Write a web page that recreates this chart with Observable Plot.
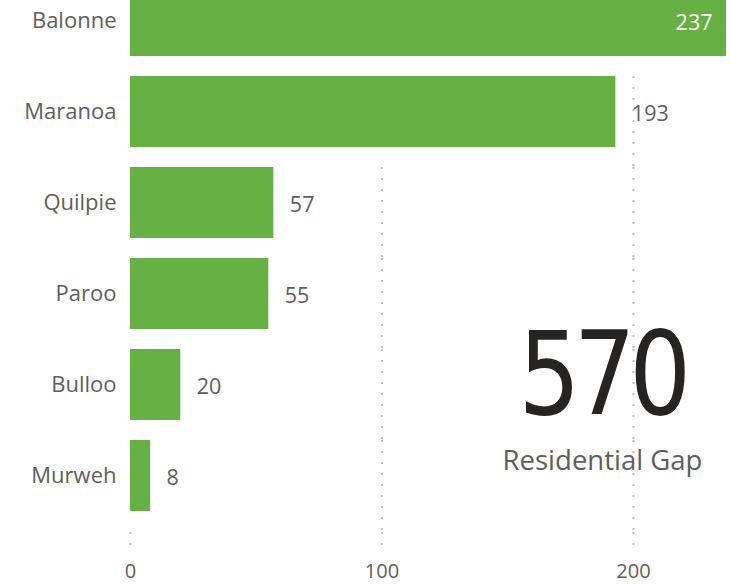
<!DOCTYPE html>
<html>
<head>
<meta charset="utf-8">
<script src="https://cdn.jsdelivr.net/npm/d3@7"></script>
<script src="https://cdn.jsdelivr.net/npm/@observablehq/plot@0.6"></script>
<style>
  html, body { margin: 0; padding: 0; background: white; }
  #chart svg { display: block; }
</style>
</head>
<body>
<div id="chart"></div>
<script>
const categories = ["Balonne", "Maranoa", "Quilpie", "Paroo", "Bulloo", "Murweh"];
const values = [237, 193, 57, 55, 20, 8];
const xTicks = [0, 100, 200];
const kpiLabel = "Residential Gap";

const data = categories.map((c, i) => ({category: c, value: values[i]}));
const total = d3.sum(values);
const maxV = d3.max(values);

const W = 730, H = 585;
const pad = 0.22;
const barColor = "#67b043";
const textColor = "#605e5c";
const font = "'Segoe UI', 'Open Sans', sans-serif";
const kpiFont = "'DIN', 'Liberation Sans Narrow', 'DejaVu Sans Condensed', 'Open Sans', sans-serif";

// grid segments: for each tick, the bands whose bar is shorter than the tick
const gridSegs = [];
for (const t of xTicks) for (const d of data) if (d.value < t) gridSegs.push({tick: t, category: d.category});
const last = categories[categories.length - 1];
const gridStyle = {stroke: "#b3b0ad", strokeWidth: 2, strokeDasharray: "2,9", strokeOpacity: 0.85};

const chart = Plot.plot({
  width: W,
  height: H,
  marginTop: -38,
  marginBottom: 52,
  marginLeft: 130,
  marginRight: 4,
  style: {fontFamily: font, background: "white"},
  x: {domain: [0, maxV], axis: null},
  y: {domain: categories, padding: pad, axis: null},
  marks: [
    Plot.tickX(gridSegs, {x: "tick", y: "category", insetBottom: -20, ...gridStyle}),
    Plot.tickX(xTicks, {x: d => d, y: () => last, insetTop: 92, insetBottom: -42, ...gridStyle}),
    Plot.barX(data, {x: "value", y: "category", fill: barColor}),
    Plot.axisY({tickSize: 0, tickPadding: 14, fontSize: 22, fill: textColor, label: null}),
    Plot.axisX(xTicks, {tickSize: 0, tickPadding: 30, fontSize: 20, fill: textColor, anchor: "bottom", label: null}),
    Plot.text(data.filter(d => d.value === maxV), {x: "value", y: "category", text: d => String(d.value), textAnchor: "end", dx: -14, dy: 2, fill: "white", fontSize: 21.5}),
    Plot.text(data.filter(d => d.value !== maxV), {x: "value", y: "category", text: d => String(d.value), textAnchor: "start", dx: 16, dy: 2, fill: textColor, fontSize: 21.5}),
    Plot.text([total], {frameAnchor: "bottom-right", text: d => String(d), dx: -125, dy: -156, lineAnchor: "middle", textAnchor: "middle", fontSize: 115, fill: "#252423", fontFamily: kpiFont, className: "kpi-value"}),
    Plot.text([kpiLabel], {frameAnchor: "bottom-right", text: d => d, dx: -124, dy: -72, lineAnchor: "middle", textAnchor: "middle", fontSize: 27.5, fill: textColor})
  ]
});
// narrow the callout number to match the condensed card font
d3.select(chart).selectAll(".kpi-value text")
  .style("letter-spacing", "-7px")
  .attr("textLength", 166)
  .attr("lengthAdjust", "spacingAndGlyphs");
document.getElementById("chart").appendChild(chart);
</script>
</body>
</html>
